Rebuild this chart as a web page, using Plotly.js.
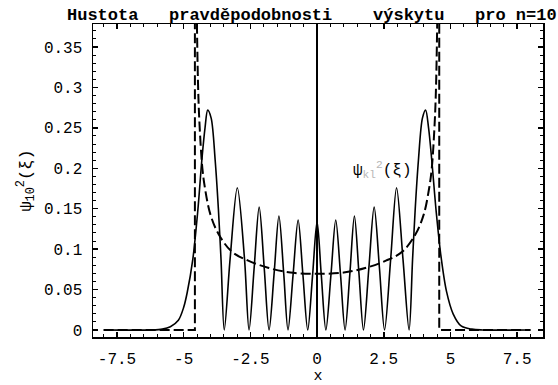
<!DOCTYPE html>
<html>
<head>
<meta charset="utf-8">
<script src="https://cdn.plot.ly/plotly-3.0.1.min.js"></script>
<style>html,body{margin:0;padding:0;background:#fff;}#chart{width:558px;height:385px;}</style>
</head>
<body>
<div id="chart"></div>
<script>
// Quantum probability density |psi_10(x)|^2
const quantumX = [-8, -6.2, -5.8, -5.5, -5.2, -5.0, -4.87, -4.66, -4.47, -4.32, -4.2, -4.1, -3.97, -3.82, -3.7, -3.6, -3.48,
  -3.26, -2.99, -2.72, -2.55,
  -2.36, -2.17, -1.98, -1.8,
  -1.61, -1.43, -1.25, -1.09,
  -0.9, -0.71, -0.53, -0.35,
  -0.17, 0, 0.16, 0.33,
  0.52, 0.70, 0.88, 1.05,
  1.23, 1.40, 1.57, 1.74,
  1.94, 2.14, 2.34, 2.53,
  2.76, 2.98, 3.22, 3.45,
  3.58, 3.68, 3.8, 3.95, 4.07, 4.18, 4.3, 4.47, 4.65, 4.85, 5.1, 5.4, 5.8, 6.2, 8];
const quantumY = [0, 0, 0.001, 0.004, 0.012, 0.028, 0.046, 0.087, 0.148, 0.21, 0.25, 0.272, 0.262, 0.21, 0.15, 0.087, 0,
  0.088, 0.176, 0.088, 0,
  0.076, 0.152, 0.076, 0,
  0.07, 0.141, 0.07, 0,
  0.068, 0.136, 0.068, 0,
  0.067, 0.134, 0.067, 0,
  0.068, 0.136, 0.068, 0,
  0.07, 0.141, 0.07, 0,
  0.076, 0.152, 0.076, 0,
  0.088, 0.176, 0.088, 0,
  0.087, 0.15, 0.21, 0.262, 0.272, 0.25, 0.21, 0.145, 0.09, 0.048, 0.02, 0.005, 0.001, 0, 0];

// Classical probability density (dashed)
const classicalX = [-4.54, -4.5, -4.45, -4.4, -4.3, -4.2, -4.0, -3.7, -3.2, -2.6, -1.84, -1.0, 0, 1.0, 1.84, 2.6, 3.2, 3.7, 4.0, 4.2, 4.3, 4.4, 4.45, 4.5, 4.54];
const classicalY = [0.5, 0.37, 0.29, 0.25, 0.2, 0.175, 0.143, 0.119, 0.097, 0.086, 0.077, 0.071, 0.0695, 0.071, 0.077, 0.086, 0.097, 0.119, 0.143, 0.175, 0.2, 0.25, 0.29, 0.37, 0.5];

// Classical turning points and zero segments (dashed)
const turnX = [-8, -4.58, -4.58, null, 4.58, 4.58, 8];
const turnY = [0, 0, 0.5, null, 0.5, 0, 0];

const xTickVals = [-7.5, -5, -2.5, 0, 2.5, 5, 7.5];
const xTickText = ["-7.5", "-5", "-2.5", "0", "2.5", "5", "7.5"];
const yTickVals = [0, 0.05, 0.1, 0.15, 0.2, 0.25, 0.3, 0.35];
const yTickText = ["0", "0.05", "0.1", "0.15", "0.2", "0.25", "0.3", "0.35"];

const titleText = "Hustota   pravděpodobnosti    výskytu   pro n=10";
const yTitle = "ψ<sub>10</sub><sup>2</sup>(ξ)";
const curveLabel = "ψ<sub><span style='color:#b8b8b8'>kl</span></sub><sup><span style='color:#b8b8b8'>2</span></sup>(ξ)";

const mono = "Liberation Mono, Courier New, monospace";

const traces = [
  {x: turnX, y: turnY, mode: "lines", line: {color: "#000", width: 2, dash: "10px,4px"}, hoverinfo: "skip", showlegend: false},
  {x: classicalX, y: classicalY, mode: "lines", line: {color: "#000", width: 2, dash: "10px,4px", shape: "spline"}, showlegend: false},
  {x: quantumX, y: quantumY, mode: "lines", line: {color: "#000", width: 1.6, shape: "spline", smoothing: 0.9}, showlegend: false}
];

const axisCommon = {
  showline: true, mirror: "allticks", linecolor: "#000", linewidth: 1.5,
  ticks: "inside", ticklen: 5, tickwidth: 1.5, tickcolor: "#000",
  showgrid: false, tickmode: "array",
  tickfont: {family: mono, size: 16, color: "#000"}
};

const layout = {
  width: 558, height: 385,
  margin: {l: 93, r: 15, t: 24, b: 48},
  paper_bgcolor: "#fff", plot_bgcolor: "#fff",
  showlegend: false,
  title: {text: titleText, font: {family: mono, size: 17, color: "#000", weight: "bold"},
          xref: "container", yref: "container", x: 67/558, xanchor: "left", y: 1 - 14/385, yanchor: "middle"},
  xaxis: Object.assign({}, axisCommon, {
    range: [-8.4, 8.47], tickvals: xTickVals, ticktext: xTickText,
    zeroline: true, zerolinecolor: "#000", zerolinewidth: 1.5,
    minor: {ticks: "inside", ticklen: 3, tickwidth: 1, tickcolor: "#000", tick0: 0, dtick: 0.5, showgrid: false},
    ticklabelstandoff: 6,
    title: {text: "x", font: {family: mono, size: 15, color: "#000"}, standoff: 3}
  }),
  yaxis: Object.assign({}, axisCommon, {
    range: [-0.0087, 0.3785], tickvals: yTickVals, ticktext: yTickText,
    zeroline: false,
    minor: {ticks: "inside", ticklen: 3, tickwidth: 1, tickcolor: "#000", tick0: 0, dtick: 0.01, showgrid: false},
    ticklabelstandoff: 6,
    title: {text: yTitle, font: {family: mono, size: 17, color: "#000"}, standoff: 8}
  }),
  annotations: [
    {x: 2.47, y: 0.198, xref: "x", yref: "y", text: curveLabel, showarrow: false,
     font: {family: mono, size: 16, color: "#000"}}
  ]
};

Plotly.newPlot("chart", traces, layout, {displayModeBar: false, staticPlot: true});
</script>
</body>
</html>
